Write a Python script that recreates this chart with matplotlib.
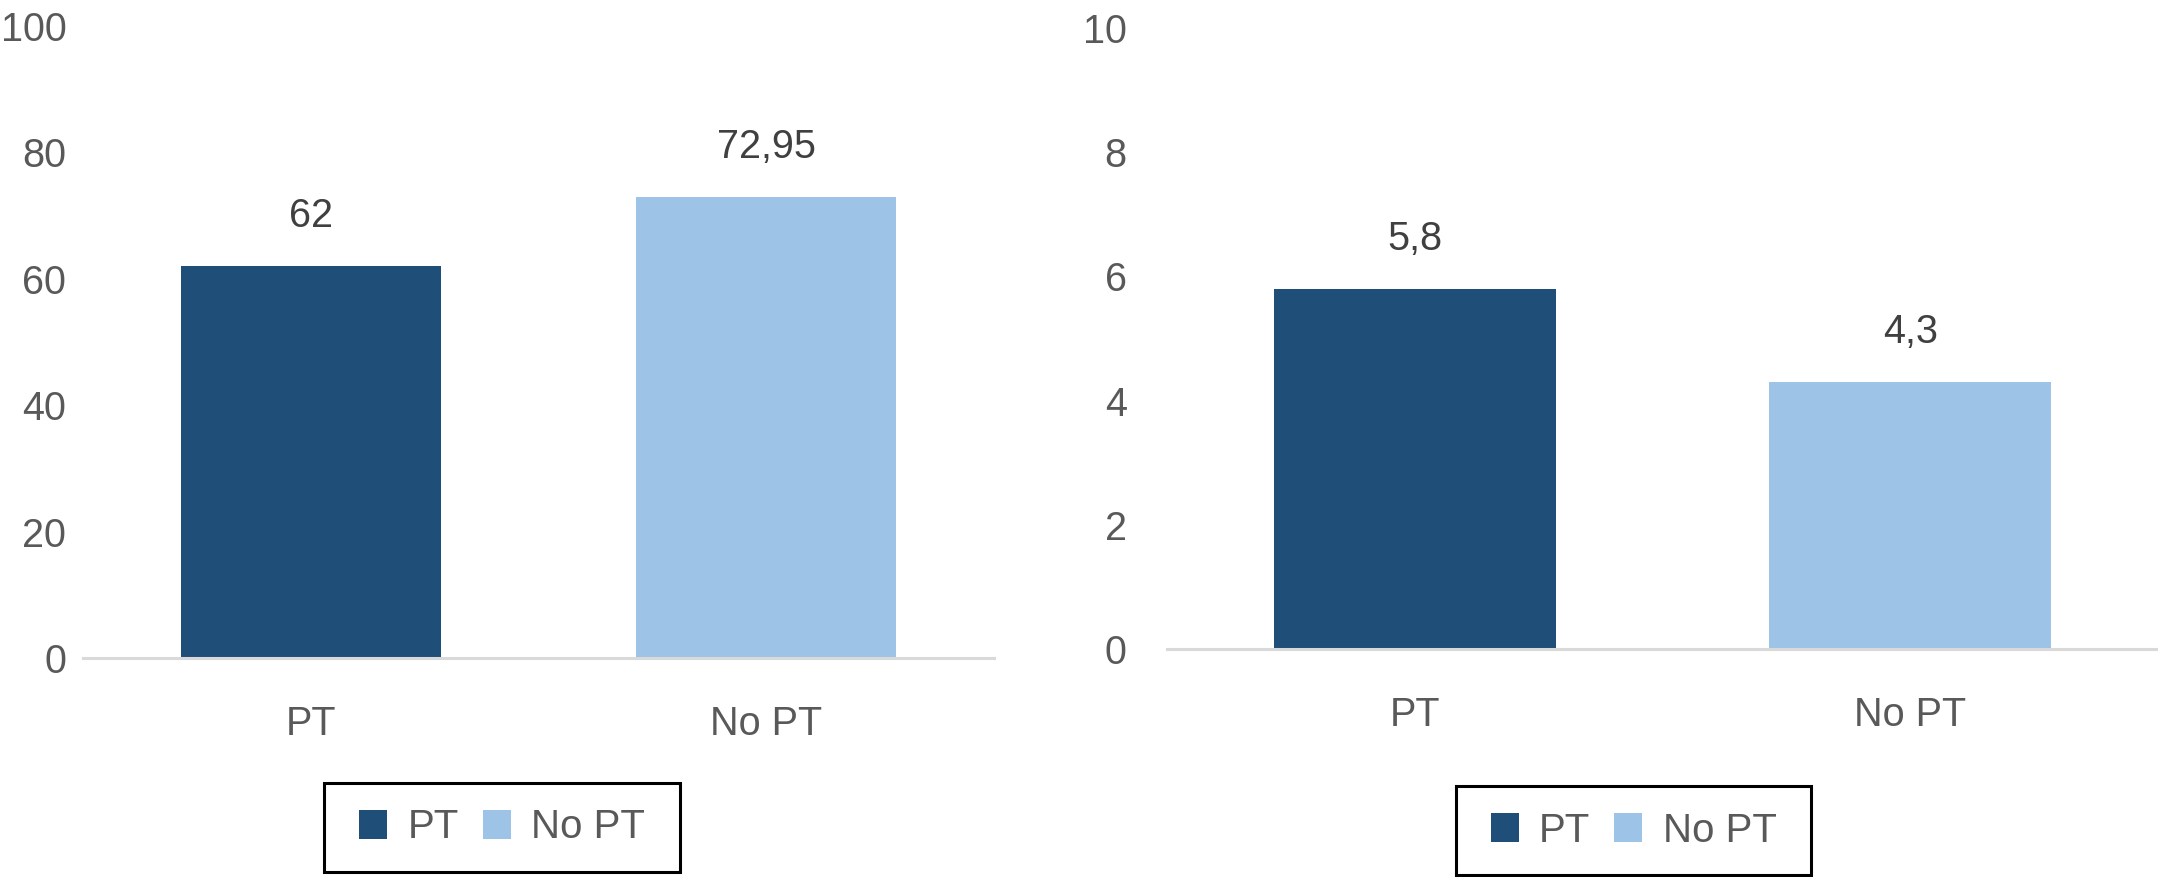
import matplotlib
matplotlib.use("Agg")
import matplotlib.pyplot as plt
from matplotlib.patches import Patch, Rectangle

plt.rcParams['font.family'] = ['Liberation Sans', 'DejaVu Sans']

categories = ["PT", "No PT"]
left_values = [62, 72.95]
right_values = [5.8, 4.3]
left_yticks = [0, 20, 40, 60, 80, 100]
right_yticks = [0, 2, 4, 6, 8, 10]
legend_labels = ["PT", "No PT"]

colors = ["#1F4E79", "#9DC3E6"]
tick_color = "#595959"
value_color = "#404040"
FS = 28.5

fig = plt.figure(figsize=(21.58, 8.77), dpi=100)
W, H = 2158, 877


def ax_rect(x0, x1, ytop, ybot):
    return [x0 / W, (H - ybot) / H, (x1 - x0) / W, (ybot - ytop) / H]


ax1 = fig.add_axes(ax_rect(83, 994, 26, 658))
ax2 = fig.add_axes(ax_rect(1167, 2158, 28, 649))


def fmt(v):
    return f"{v:g}".replace('.', ',')


def style(ax, values, yticks, ypad):
    x = range(len(categories))
    bars = ax.bar(x, values, width=0.57, color=colors)
    ax.set_xlim(-0.5, len(categories) - 0.5)
    ax.set_ylim(yticks[0], yticks[-1])
    ax.set_yticks(yticks)
    ax.set_yticklabels([str(t) for t in yticks])
    ax.set_xticks(list(x))
    ax.set_xticklabels(categories)
    for s in ["top", "left", "right"]:
        ax.spines[s].set_visible(False)
    ax.spines["bottom"].set_color("#D9D9D9")
    ax.spines["bottom"].set_linewidth(2.2)
    ax.tick_params(axis="both", length=0, labelsize=FS, colors=tick_color)
    ax.tick_params(axis="y", pad=ypad)
    ax.tick_params(axis="x", pad=34)
    for b, v in zip(bars, values):
        ax.annotate(fmt(v), (b.get_x() + b.get_width() / 2, b.get_height()),
                    xytext=(0, 36), textcoords="offset points",
                    ha="center", va="center", fontsize=FS, color=value_color)


style(ax1, left_values, left_yticks, 12)
style(ax2, right_values, right_yticks, 29)

handles = [Patch(facecolor=c, edgecolor='none') for c in colors]


def add_legend(x0, x1, ytop, ybot):
    rect = Rectangle((x0 / W, (H - ybot) / H), (x1 - x0) / W, (ybot - ytop) / H,
                     transform=fig.transFigure, facecolor='white', edgecolor='black',
                     linewidth=2.2, zorder=1)
    fig.add_artist(rect)
    cx = (x0 + x1) / 2 / W
    cy = (H - (ytop + ybot) / 2) / H
    leg = fig.legend(handles, legend_labels, loc="center", bbox_to_anchor=(cx, cy),
                     ncol=2, frameon=False, fontsize=29, handlelength=0.7,
                     handleheight=0.7, handletextpad=0.5, columnspacing=0.6,
                     labelcolor=tick_color)
    leg.set_zorder(2)


add_legend(324, 680, 783, 872)
add_legend(1456, 1811, 786, 875)

fig.savefig("out.png", dpi=100)
